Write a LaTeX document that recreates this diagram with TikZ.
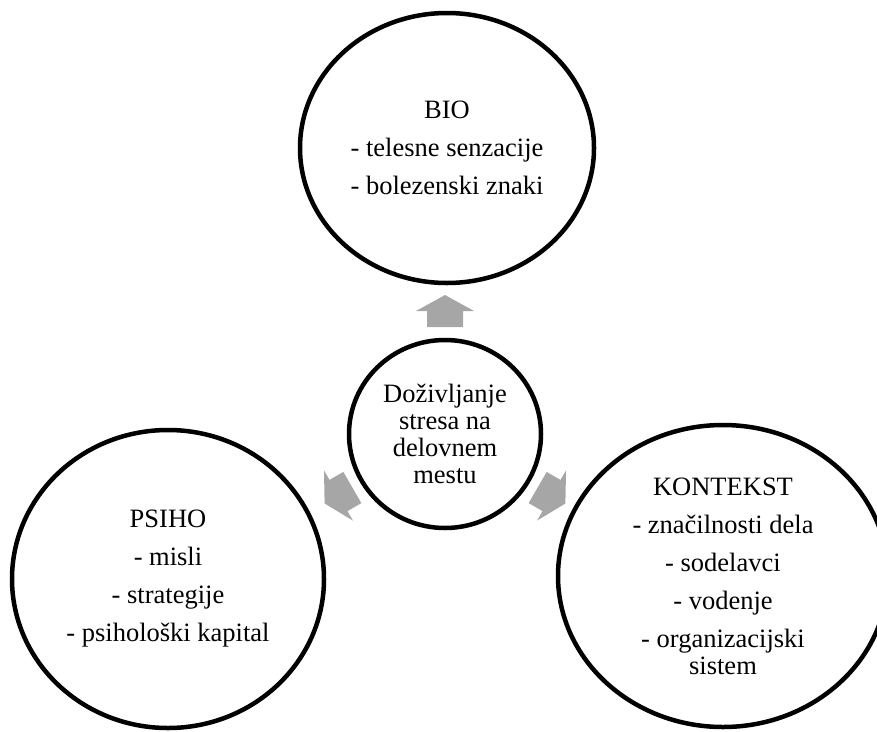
\documentclass[tikz,border=0pt]{standalone}
\usepackage{fontspec}
\setmainfont{Liberation Serif}
\usetikzlibrary{shapes.geometric,calc}
\definecolor{arrowgray}{HTML}{A6A6A6}
\tikzset{
  bubble/.style={draw=black, line width=4.5pt, ellipse, inner sep=0pt, align=center,
    font=\fontsize{26.5}{38}\selectfont},
  corebubble/.style={bubble, font=\fontsize{26.5}{27}\selectfont},
  blockarrow/.style={fill=arrowgray, draw=none},
}
\begin{document}
\begin{tikzpicture}[x=1pt,y=-1pt]
\useasboundingbox (0,0) rectangle (877,731);
\begin{scope}
\clip (0,0) rectangle (877,731);
\node[bubble, minimum width=294pt, minimum height=270pt] (bio) at (447,148)
  {BIO\\- telesne senzacije\\- bolezenski znaki};
\node[bubble, minimum width=312pt, minimum height=298pt] (psiho) at (168,579)
  {PSIHO\\- misli\\- strategije\\- psihološki kapital};
\node[bubble, minimum width=330pt, minimum height=302pt] (kontekst) at (723,576)
  {KONTEKST\\- značilnosti dela\\- sodelavci\\- vodenje\\- organizacijski\\[-11pt]sistem};
\node[corebubble, minimum width=192pt, minimum height=188pt] (core) at (445,434)
  {Doživljanje\\stresa na\\delovnem\\mestu};
\foreach \a in {-90,150,30}{
  \coordinate (m) at ($(core.center)+(\a:123)$);
  \fill[blockarrow] ($(m)+(\a:16)$) -- ($(m)+(\a+90:29)$) -- ($(m)+(\a+90:18)$)
    -- ($(m)+(\a+90:18)+(\a+180:16)$) -- ($(m)+(\a-90:18)+(\a+180:16)$)
    -- ($(m)+(\a-90:18)$) -- ($(m)+(\a-90:29)$) -- cycle;
}
\end{scope}
\end{tikzpicture}
\end{document}
